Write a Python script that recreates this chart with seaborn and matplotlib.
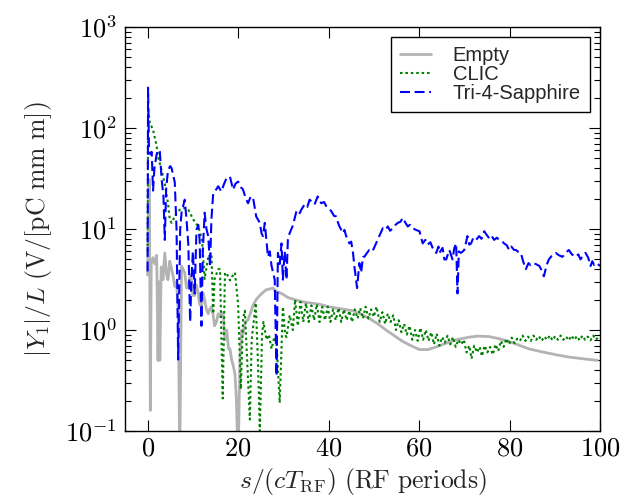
import math
import matplotlib
matplotlib.use("Agg")
import matplotlib.pyplot as plt
import matplotlib.ticker as mticker
import seaborn as sns
import pandas as pd

# ---------------- data ----------------
series_names = ["Empty", "CLIC", "Tri-4-Sapphire"]

empty_x = [0.0, 0.2, 0.4, 0.6, 0.8, 1.2, 1.6, 2.0, 2.3, 2.5, 2.7, 3.0, 3.4, 3.8, 4.2, 4.5,
           4.9, 5.3, 5.7, 6.0, 6.4, 6.8, 7.1, 7.5, 8.2, 8.6, 9.0, 9.4, 9.7, 10.0, 10.4,
           10.8, 11.2, 11.5, 11.9, 12.3, 12.6, 13.0, 13.4, 13.7, 14.1, 14.5, 14.8, 15.2,
           15.6, 16.0, 16.4, 16.7, 17.1, 17.5, 17.9, 18.2, 18.6, 18.9, 19.3, 19.6, 20.0,
           20.4, 20.8, 21.1, 21.6, 22.2, 22.8, 23.3, 24.0, 24.8, 25.5, 26.2, 27.0, 27.7,
           28.5, 29.6, 31.0, 32.5, 34.3, 36.0, 38.0, 40.0, 41.7, 43.5, 45.4, 47.0, 48.3,
           49.0, 50.9, 52.7, 54.5, 56.4, 58.2, 60.1, 62.0, 63.8, 66.0, 68.2, 71.1, 73.0,
           75.5, 77.7, 79.9, 82.0, 84.3, 87.0, 90.2, 93.0, 96.1, 99.4]
empty_y = [3.5, 20, 31, 0.16, 4.5, 5.2, 4.5, 5.5, 0.5, 3.0, 0.5, 4.2, 3.15, 5.8, 3.5, 3.15,
           4.8, 4.0, 3.3, 2.7, 3.0, 1.45, 0.05, 4.3, 3.7, 2.6, 2.7, 3.5, 3.15, 2.2, 2.2,
           2.8, 2.3, 1.8, 1.7, 2.3, 2.0, 1.6, 1.45, 1.6, 1.7, 1.4, 1.1, 1.2,
           1.45, 1.35, 1.5, 1.45, 0.8, 1.0, 0.65, 0.65, 0.5, 0.45, 0.37, 0.22, 0.05,
           0.5, 1.0, 0.92, 1.2, 1.26, 1.5, 1.75, 2.0, 2.2, 2.35, 2.5, 2.55, 2.6,
           2.4, 2.3, 2.1, 2.0, 1.9, 1.85, 1.8, 1.7, 1.65, 1.6, 1.55, 1.45, 1.35,
           1.3, 1.15, 1.0, 0.88, 0.77, 0.7, 0.64, 0.64, 0.68, 0.74, 0.8, 0.85, 0.87,
           0.86, 0.82, 0.77, 0.71, 0.65, 0.61, 0.57, 0.54, 0.52, 0.5]

clic_x = [0.0, 0.1, 0.5, 1.2, 2.0, 2.3, 3.1, 3.8, 4.5, 4.9, 5.3, 6.4, 7.1, 8.2, 9.0, 10.1,
          11.2, 12.0, 12.6, 13.4, 14.1, 14.5, 14.8, 15.6, 16.0, 16.6, 17.1, 17.5, 18.2,
          18.7, 19.3, 20.0, 20.6, 21.1, 21.5, 22.0, 22.6, 23.0, 23.9, 24.4, 24.8, 25.3,
          25.6, 26.3, 26.8, 27.4, 28.0, 28.5, 29.2, 29.9, 30.4, 30.7, 31.4, 32.1, 32.6,
          33.2, 33.8, 34.4, 35.0, 35.6, 36.2, 36.8, 37.4, 38.0, 38.6, 39.2, 39.8, 40.4,
          41.0, 41.6, 42.2, 42.8, 43.4, 44.0, 44.6, 45.2, 45.8, 46.4, 47.0, 47.6, 48.2,
          48.8, 49.4, 50.0, 50.6, 51.3, 51.9, 52.5, 53.1, 53.7, 54.3, 54.9, 55.5, 56.1,
          56.7, 57.3, 57.9, 58.5, 59.1, 59.7, 60.3, 60.9, 61.5, 62.1, 62.7, 63.3, 63.9,
          64.5, 65.1, 65.7, 66.3, 66.9, 67.5, 68.1, 68.7, 69.3, 69.9, 70.5, 71.1, 71.6,
          72.2, 72.8, 73.4, 73.9, 74.5, 75.1, 75.7, 76.3, 76.9, 77.5, 78.1, 78.7, 79.3,
          79.9, 80.5, 81.1, 81.7, 82.3, 82.9, 83.5, 84.1, 84.7, 85.3, 85.9, 86.5, 87.1,
          87.7, 88.3, 88.9, 89.5, 90.1, 90.7, 91.3, 91.9, 92.5, 93.1, 93.7, 94.3, 94.9,
          95.5, 96.1, 96.7, 97.3, 97.9, 98.5, 99.1, 99.7]
clic_y = [6.0, 150, 112, 96, 66, 52, 38, 28, 18, 12.4, 11.5, 14.5, 15.5, 16.2, 15.5, 12.4,
          10.6, 8.0, 3.2, 5.3, 5.8, 1.45, 3.2, 4.0, 4.0, 0.21, 3.7, 3.6, 3.1,
          3.4, 3.7, 1.8, 0.26, 1.3, 1.55, 0.5, 0.13, 0.8, 1.85, 0.47, 0.1, 0.9,
          1.2, 0.8, 0.9, 0.65, 0.85, 0.75, 0.19, 1.7, 0.9, 0.85, 1.4, 1.0, 2.0,
          1.1, 1.9, 1.2, 1.85, 1.2, 1.75, 1.25, 1.8, 1.2, 1.7, 1.25, 1.7, 1.2,
          1.6, 1.25, 1.65, 1.2, 1.6, 1.25, 1.55, 1.2, 1.6, 1.3, 1.65, 1.3, 1.7,
          1.3, 1.6, 1.35, 1.7, 1.2, 1.5, 1.15, 1.45, 1.2, 1.4, 1.0, 1.25, 0.95,
          1.15, 0.9, 1.1, 0.8, 1.0, 0.78, 1.05, 0.8, 1.0, 0.78, 0.95, 0.72, 0.92,
          0.7, 0.85, 0.75, 0.88, 0.72, 0.85, 0.68, 0.8, 0.72, 0.8, 0.6, 0.7, 0.52,
          0.7, 0.6, 0.68, 0.55, 0.7, 0.6, 0.68, 0.57, 0.72, 0.62, 0.78, 0.68, 0.82,
          0.72, 0.84, 0.74, 0.82, 0.78, 0.88, 0.78, 0.86, 0.78, 0.88, 0.8, 0.87, 0.78,
          0.86, 0.8, 0.88, 0.79, 0.87, 0.8, 0.88, 0.8, 0.86, 0.79, 0.88, 0.8, 0.87,
          0.79, 0.88, 0.8, 0.86, 0.79, 0.88, 0.8, 0.86]

tri_x = [0.0, 0.1, 0.3, 0.6, 0.9, 1.2, 1.5, 2.0, 2.4, 2.7, 3.1, 3.5, 3.8, 4.1, 4.5, 5.0,
         5.3, 6.0, 6.4, 6.75, 7.2, 7.5, 8.2, 8.6, 9.0, 9.4, 9.7, 10.0, 10.4, 10.8, 11.2,
         11.5, 11.9, 12.2, 12.6, 13.0, 13.4, 13.8, 14.1, 14.5, 15.0, 15.6, 16.3, 16.9,
         17.4, 18.2, 18.9, 19.4, 20.0, 20.6, 21.1, 21.7, 22.2, 22.8, 23.3, 24.0, 24.8,
         25.2, 25.5, 25.9, 26.6, 27.0, 27.4, 28.1, 28.5, 28.8, 29.2, 29.6, 29.9, 30.3,
         30.7, 31.0, 31.4, 32.1, 32.9, 33.5, 34.0, 34.7, 35.3, 35.8, 36.4, 36.9, 37.6,
         38.0, 38.4, 39.0, 39.5, 40.1, 40.6, 41.2, 41.7, 42.1, 42.4, 43.2, 43.5, 43.9,
         44.6, 45.0, 45.4, 45.7, 46.3, 46.8, 47.2, 47.6, 47.9, 48.5, 49.0, 49.7, 50.5,
         51.2, 52.0, 52.6, 53.1, 53.6, 54.2, 54.8, 55.3, 55.9, 56.4, 57.0, 57.5, 58.0,
         58.6, 59.3, 60.1, 60.8, 61.4, 61.9, 62.5, 63.0, 63.8, 64.3, 64.5, 65.2, 65.6,
         66.0, 66.7, 67.4, 67.8, 68.2, 68.5, 68.8, 69.3, 70.0, 70.7, 71.1, 71.5, 72.0,
         72.6, 73.3, 73.8, 74.4, 74.9, 75.5, 76.0, 76.6, 77.2, 77.7, 78.3, 78.8, 79.4,
         79.9, 80.4, 81.0, 81.4, 82.0, 82.5, 83.0, 83.6, 84.2, 84.6, 85.1, 85.8, 86.6,
         87.1, 87.6, 88.2, 88.7, 89.3, 90.2, 90.9, 91.7, 92.4, 93.1, 93.8, 94.6, 95.2,
         95.7, 96.3, 96.8, 97.4, 97.9, 98.3, 98.7, 99.3, 100.0]
tri_y = [3.8, 251, 60, 55, 58, 24, 40, 55, 61, 58, 31, 21, 7.8, 25, 38, 42,
         40, 29, 9.8, 0.51, 10, 14.5, 19.5, 12.4, 7, 1.2, 3.2, 6, 2.3, 9.8, 11,
         7.8, 1.1, 6, 14.5, 10, 8.5, 4.3, 12.4, 22.5, 24, 26.5, 23.5, 28,
         31.5, 33, 24.5, 28, 29.5, 26, 24.5, 20, 18, 21, 20.5, 13.3, 11.5,
         9, 8.5, 11.5, 5.3, 6, 4.3, 3.15, 0.35, 5.8, 4.5, 7.2, 3.15, 6,
         3.15, 7.8, 9.1, 10.8, 15, 14, 15.6, 17.5, 16.5, 19.5, 18.5, 17.5, 21,
         19, 18, 18.5, 16.8, 16, 15, 13.5, 13.3, 11.5, 10.6, 9.1, 9.8, 8.5,
         7.2, 7.5, 5.8, 4.3, 2.6, 4.6, 3.7, 5.3, 5.3, 5.8, 6.2, 6.0, 7.2,
         8.5, 10.2, 9.8, 10.6, 9.6, 10.2, 11.0, 11.5, 11.8, 12.9, 11.5, 10.6, 11.0,
         10.2, 9.8, 9.5, 7.2, 7.8, 7, 7.4, 6.5, 5.8, 6.7, 5.8, 6.5, 5.0,
         5, 6.2, 5, 6.5, 7.2, 2.3, 6.0, 5.8, 6.2, 8.5, 7.0, 7.2, 8.2,
         7.8, 8.5, 8.0, 9.5, 8.8, 8.1, 8.6, 7.8, 8.2, 7.8, 7.6, 7.2, 6.9,
         6.2, 6.7, 6.2, 6.2, 5.9, 5.8, 4.8, 4.0, 4.6, 4.4, 4.6, 4.5, 4.3,
         3.9, 3.4, 4.4, 5.0, 5.4, 5.8, 5.5, 5.3, 5.8, 6.2, 5.6, 5.3, 5.6,
         5.0, 5.5, 5.8, 5.2, 4.3, 4.8, 4.4, 4.6, 4.3]

x_ticks = [0, 20, 40, 60, 80, 100]
y_ticks = [0.1, 1, 10, 100, 1000]

# ---------------- style ----------------
sns.set_style("ticks")
plt.rcParams.update({
    "mathtext.fontset": "cm",
    "font.family": ["DejaVu Sans"],
    "axes.edgecolor": "black",
    "axes.linewidth": 1.0,
    "xtick.direction": "in",
    "ytick.direction": "in",
    "xtick.top": True,
    "ytick.right": True,
    "xtick.major.size": 8,
    "ytick.major.size": 8,
    "xtick.minor.size": 4,
    "ytick.minor.size": 4,
    "xtick.major.width": 0.8,
    "ytick.major.width": 0.8,
    "ytick.minor.width": 0.8,
    "xtick.color": "black",
    "ytick.color": "black",
})

fig = plt.figure(figsize=(6.31, 4.98), dpi=100)
ax = fig.add_axes([125 / 631, 1 - 431 / 498, 475 / 631, 404 / 498])

df_e = pd.DataFrame({"x": empty_x, "y": empty_y})
df_c = pd.DataFrame({"x": clic_x, "y": clic_y})
df_t = pd.DataFrame({"x": tri_x, "y": tri_y})

sns.lineplot(data=df_e, x="x", y="y", ax=ax, color="#b3b3b3", lw=2.0,
             linestyle="-", label=series_names[0], sort=False, estimator=None)
sns.lineplot(data=df_c, x="x", y="y", ax=ax, color="#008000", lw=1.5,
             linestyle=(0, (1.2, 1.4)), label=series_names[1], sort=False, estimator=None)
sns.lineplot(data=df_t, x="x", y="y", ax=ax, color="#0000ff", lw=1.5,
             linestyle=(0, (4.8, 2.2)), label=series_names[2], sort=False, estimator=None)

ax.set_yscale("log")
ax.set_xlim(-5, 100)
ax.set_ylim(0.1, 1000)
ax.set_xticks(x_ticks)
ax.set_yticks(y_ticks)
ax.yaxis.set_minor_locator(mticker.LogLocator(base=10, subs=range(2, 10), numticks=20))
ax.xaxis.set_major_formatter(mticker.FuncFormatter(lambda v, p: r"$%d$" % v))
ax.yaxis.set_major_formatter(mticker.FuncFormatter(
    lambda v, p: r"$10^{%d}$" % round(math.log10(v))))
ax.yaxis.set_minor_formatter(mticker.NullFormatter())
ax.tick_params(axis="x", which="major", labelsize=19, pad=3.5)
ax.tick_params(axis="y", which="major", labelsize=19, pad=6)
ax.tick_params(axis="both", which="both", direction="in", top=True, right=True)

ax.set_xlabel(r"$s/(cT_{\mathrm{RF}})\ (\mathrm{RF\ periods})$", fontsize=18.5, labelpad=3)
ax.set_ylabel(r"$|Y_1|/L\ (\mathrm{V/[pC\ mm\ m]})$", fontsize=18.5, labelpad=8)

leg = ax.legend(loc="upper right", prop={"family": "Liberation Sans", "size": 14.5},
                frameon=True, fancybox=False, framealpha=1, edgecolor="black",
                handlelength=1.5, handletextpad=1.1, labelspacing=0.0,
                borderpad=0.45, borderaxespad=0.5)
leg.get_frame().set_linewidth(1.0)

fig.savefig("out.png", dpi=100)
